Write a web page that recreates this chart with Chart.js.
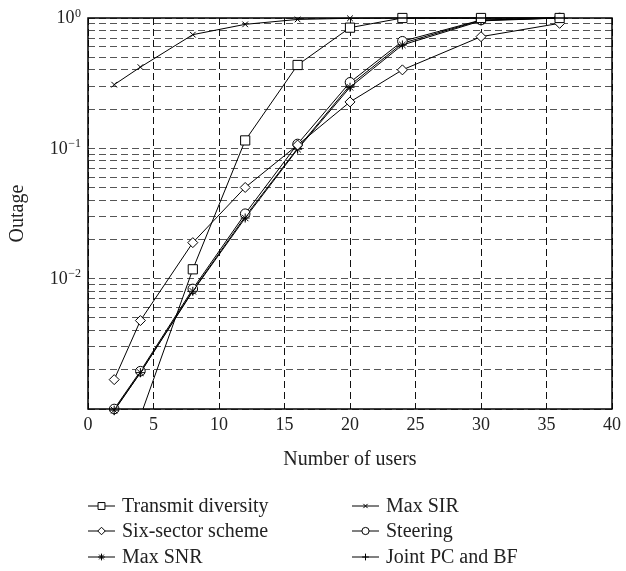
<!DOCTYPE html>
<html>
<head>
<meta charset="utf-8">
<script src="https://cdn.jsdelivr.net/npm/chart.js@4/dist/chart.umd.min.js"></script>
<style>
  html, body { margin: 0; padding: 0; background: #fff; }
  #wrap { width: 626px; height: 571px; }
</style>
</head>
<body>
<div id="wrap"><canvas id="grafico" width="626" height="571"></canvas></div>
<script>
// Number of users on the x axis
const users = [2, 4, 8, 12, 16, 20, 24, 30, 36];

// Outage probability for each scheme
const transmitDiversity = [null, 0.00088, 0.0118, 0.115, 0.436, 0.843, 1.0, 1.0, 1.0];
const sixSector = [0.00168, 0.00477, 0.0189, 0.0501, 0.106, 0.227, 0.40, 0.719, 0.91];
const maxSNR = [0.00098, 0.0019, 0.0080, 0.0292, 0.0985, 0.294, 0.621, 0.95, 1.0];
const maxSIR = [0.308, 0.42, 0.745, 0.894, 0.975, 0.995, 1.0, 1.0, 1.0];
const steering = [0.001, 0.00195, 0.00834, 0.0315, 0.108, 0.321, 0.663, 0.965, 1.0];
const jointPCBF = [0.00097, 0.0019, 0.0081, 0.0300, 0.100, 0.305, 0.640, 0.96, 1.0];

// Axis ticks
const xTicks = [0, 5, 10, 15, 20, 25, 30, 35, 40];
const yDecades = [0.001, 0.01, 0.1];
const yMultipliers = [1, 2, 3, 4, 5, 6, 7, 8, 9];
const yLabelValues = [1, 0.1, 0.01];
const yLabelExponents = ['0', '\u22121', '\u22122'];

const fonte = 'Liberation Serif, Times New Roman, serif';

function pontos(valores) {
    return users.map((u, i) => ({ x: u, y: valores[i] }));
}

function serie(label, valores, estilo, raio, extra) {
    return Object.assign({
        label: label,
        data: pontos(valores),
        borderColor: '#000',
        borderWidth: 1,
        backgroundColor: '#fff',
        pointStyle: estilo,
        pointRadius: raio,
        pointHoverRadius: raio,
        pointBackgroundColor: '#fff',
        pointBorderColor: '#000',
        pointBorderWidth: 1,
        tension: 0,
        fill: false,
        clip: false
    }, extra || {});
}

const series = [
    serie('Transmit diversity', transmitDiversity, 'rect', 6.5,
        { clip: { left: false, top: false, right: false, bottom: 0 } }),
    serie('Six-sector scheme', sixSector, 'rectRot', 5),
    serie('Max SNR', maxSNR, 'star', 4.5),
    serie('Max SIR', maxSIR, 'crossRot', 4),
    serie('Steering', steering, 'circle', 4.8),
    serie('Joint PC and BF', jointPCBF, 'cross', 4.5)
];

// Legend in two columns under the plot
const legendaPos = [
    { x: 88, y: 506 }, { x: 88, y: 531 }, { x: 88, y: 557 },
    { x: 352, y: 506 }, { x: 352, y: 531 }, { x: 352, y: 557 }
];

const molduraELegenda = {
    id: 'molduraELegenda',
    afterDraw(chart) {
        const ctx = chart.ctx;
        const a = chart.chartArea;
        const yScale = chart.scales.y;

        // frame
        ctx.save();
        ctx.strokeStyle = '#000';
        ctx.lineWidth = 1.5;
        ctx.strokeRect(a.left, a.top, a.right - a.left, a.bottom - a.top);
        ctx.restore();

        // y tick labels as powers of ten
        ctx.save();
        ctx.fillStyle = '#222';
        yLabelValues.forEach((v, i) => {
            const y = yScale.getPixelForValue(v);
            ctx.font = '12px ' + fonte;
            const ew = ctx.measureText(yLabelExponents[i]).width;
            const right = 81;
            ctx.textAlign = 'left';
            ctx.textBaseline = 'alphabetic';
            ctx.fillText(yLabelExponents[i], right - ew, y - 1.5);
            ctx.font = '18px ' + fonte;
            ctx.textAlign = 'right';
            ctx.textBaseline = 'middle';
            ctx.fillText('10', right - ew - 0.5, y + 0.5);
        });
        ctx.restore();

        // legend
        ctx.save();
        chart.data.datasets.forEach((ds, i) => {
            const p = legendaPos[i];
            ctx.strokeStyle = '#000';
            ctx.lineWidth = 1;
            ctx.beginPath();
            ctx.moveTo(p.x, p.y);
            ctx.lineTo(p.x + 27, p.y);
            ctx.stroke();
            ctx.fillStyle = '#fff';
            Chart.helpers.drawPoint(ctx, {
                pointStyle: ds.pointStyle,
                radius: ds.pointRadius * 0.75,
                rotation: 0,
                borderWidth: 1
            }, p.x + 13.5, p.y);
            ctx.fillStyle = '#222';
            ctx.font = '20px ' + fonte;
            ctx.textAlign = 'left';
            ctx.textBaseline = 'middle';
            ctx.fillText(ds.label, p.x + 34, p.y + 1);
        });
        ctx.restore();
    }
};

new Chart(document.getElementById('grafico'), {
    type: 'line',
    data: { datasets: series },
    options: {
        responsive: false,
        animation: false,
        events: [],
        layout: { padding: { top: 18, right: 9, left: 0, bottom: 0 } },
        plugins: {
            legend: { display: false },
            tooltip: { enabled: false }
        },
        scales: {
            x: {
                type: 'linear',
                min: 0,
                max: 40,
                afterFit: (scale) => { scale.height = 162; },
                afterBuildTicks: (scale) => { scale.ticks = xTicks.map(v => ({ value: v })); },
                ticks: {
                    autoSkip: false,
                    maxRotation: 0,
                    padding: 5,
                    color: '#222',
                    font: { family: fonte, size: 18 }
                },
                grid: {
                    color: '#111',
                    lineWidth: 1,
                    drawTicks: false
                },
                border: { display: false, dash: [7, 4] },
                title: {
                    display: true,
                    text: 'Number of users',
                    color: '#222',
                    font: { family: fonte, size: 20 },
                    padding: { top: 0, bottom: 99 }
                }
            },
            y: {
                type: 'logarithmic',
                min: 0.001,
                max: 1,
                afterFit: (scale) => { scale.width = 88; },
                afterBuildTicks: (scale) => {
                    const lista = [];
                    yDecades.forEach(d => yMultipliers.forEach(m => lista.push({ value: d * m })));
                    lista.push({ value: 1 });
                    scale.ticks = lista;
                },
                ticks: { display: false, autoSkip: false },
                grid: {
                    color: '#555',
                    lineWidth: 1,
                    drawTicks: false
                },
                border: { display: false, dash: [7, 4] },
                title: {
                    display: true,
                    text: 'Outage',
                    color: '#222',
                    font: { family: fonte, size: 20 },
                    padding: { top: 6, bottom: 0 }
                }
            }
        }
    },
    plugins: [molduraELegenda]
});
</script>
</body>
</html>
